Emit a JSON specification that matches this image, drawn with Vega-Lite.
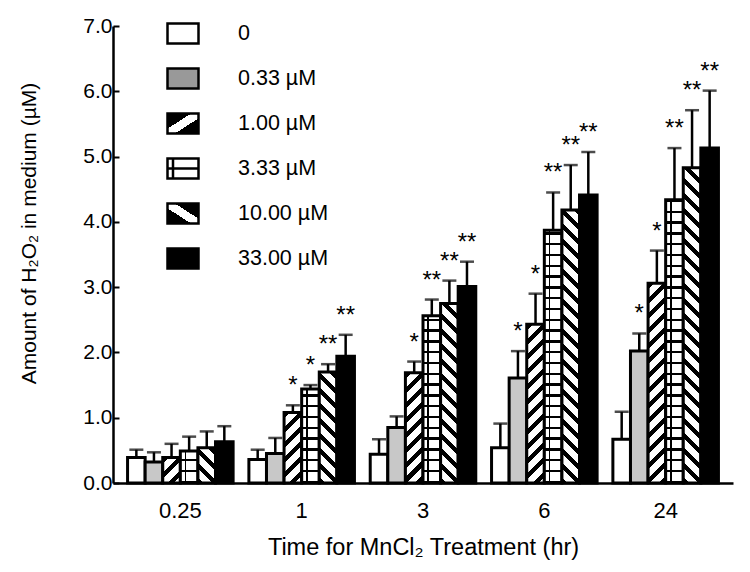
{
  "$schema": "https://vega.github.io/schema/vega-lite/v6.json",
  "width": 620,
  "height": 457,
  "autosize": {"type": "none"},
  "padding": {"left": 113, "top": 26, "right": 17, "bottom": 89},
  "background": "white",
  "config": {
    "view": {"stroke": null},
    "font": "Liberation Sans",
    "axis": {"labelFont": "Liberation Sans", "titleFont": "Liberation Sans", "labelColor": "black", "titleColor": "black", "domainColor": "black", "tickColor": "black", "labelFontSize": 21, "titleFontSize": 21, "titleFontWeight": "normal", "grid": false},
    "legend": {"title": null, "orient": "none", "legendX": 58.5, "legendY": -4, "direction": "vertical",
      "symbolSize": 400, "symbolStrokeWidth": 2.5, "symbolOpacity": 1,
      "labelFont": "Liberation Sans", "labelFontSize": 21.5, "labelColor": "black",
      "labelAlign": "left", "labelOffset": 43.5, "rowPadding": 14, "padding": 0, "labelLimit": 300}
  },
  "params": [
    {"name": "dstops", "value": [
      {"offset":0,"color":"black"},{"offset":0.0143,"color":"black"},{"offset":0.0143,"color":"white"},{"offset":0.0357,"color":"white"},
      {"offset":0.0357,"color":"black"},{"offset":0.05,"color":"black"},{"offset":0.05,"color":"white"},{"offset":0.0714,"color":"white"},
      {"offset":0.0714,"color":"black"},{"offset":0.0857,"color":"black"},{"offset":0.0857,"color":"white"},{"offset":0.1071,"color":"white"},
      {"offset":0.1071,"color":"black"},{"offset":0.1214,"color":"black"},{"offset":0.1214,"color":"white"},{"offset":0.1429,"color":"white"},
      {"offset":0.1429,"color":"black"},{"offset":0.1571,"color":"black"},{"offset":0.1571,"color":"white"},{"offset":0.1786,"color":"white"},
      {"offset":0.1786,"color":"black"},{"offset":0.1929,"color":"black"},{"offset":0.1929,"color":"white"},{"offset":0.2143,"color":"white"},
      {"offset":0.2143,"color":"black"},{"offset":0.2286,"color":"black"},{"offset":0.2286,"color":"white"},{"offset":0.25,"color":"white"},
      {"offset":0.25,"color":"black"},{"offset":0.2643,"color":"black"},{"offset":0.2643,"color":"white"},{"offset":0.2857,"color":"white"},
      {"offset":0.2857,"color":"black"},{"offset":0.3,"color":"black"},{"offset":0.3,"color":"white"},{"offset":0.3214,"color":"white"},
      {"offset":0.3214,"color":"black"},{"offset":0.3357,"color":"black"},{"offset":0.3357,"color":"white"},{"offset":0.3571,"color":"white"},
      {"offset":0.3571,"color":"black"},{"offset":0.3714,"color":"black"},{"offset":0.3714,"color":"white"},{"offset":0.3929,"color":"white"},
      {"offset":0.3929,"color":"black"},{"offset":0.4071,"color":"black"},{"offset":0.4071,"color":"white"},{"offset":0.4286,"color":"white"},
      {"offset":0.4286,"color":"black"},{"offset":0.4429,"color":"black"},{"offset":0.4429,"color":"white"},{"offset":0.4643,"color":"white"},
      {"offset":0.4643,"color":"black"},{"offset":0.4786,"color":"black"},{"offset":0.4786,"color":"white"},{"offset":0.5,"color":"white"},
      {"offset":0.5,"color":"black"},{"offset":0.5143,"color":"black"},{"offset":0.5143,"color":"white"},{"offset":0.5357,"color":"white"},
      {"offset":0.5357,"color":"black"},{"offset":0.55,"color":"black"},{"offset":0.55,"color":"white"},{"offset":0.5714,"color":"white"},
      {"offset":0.5714,"color":"black"},{"offset":0.5857,"color":"black"},{"offset":0.5857,"color":"white"},{"offset":0.6071,"color":"white"},
      {"offset":0.6071,"color":"black"},{"offset":0.6214,"color":"black"},{"offset":0.6214,"color":"white"},{"offset":0.6429,"color":"white"},
      {"offset":0.6429,"color":"black"},{"offset":0.6571,"color":"black"},{"offset":0.6571,"color":"white"},{"offset":0.6786,"color":"white"},
      {"offset":0.6786,"color":"black"},{"offset":0.6929,"color":"black"},{"offset":0.6929,"color":"white"},{"offset":0.7143,"color":"white"},
      {"offset":0.7143,"color":"black"},{"offset":0.7286,"color":"black"},{"offset":0.7286,"color":"white"},{"offset":0.75,"color":"white"},
      {"offset":0.75,"color":"black"},{"offset":0.7643,"color":"black"},{"offset":0.7643,"color":"white"},{"offset":0.7857,"color":"white"},
      {"offset":0.7857,"color":"black"},{"offset":0.8,"color":"black"},{"offset":0.8,"color":"white"},{"offset":0.8214,"color":"white"},
      {"offset":0.8214,"color":"black"},{"offset":0.8357,"color":"black"},{"offset":0.8357,"color":"white"},{"offset":0.8571,"color":"white"},
      {"offset":0.8571,"color":"black"},{"offset":0.8714,"color":"black"},{"offset":0.8714,"color":"white"},{"offset":0.8929,"color":"white"},
      {"offset":0.8929,"color":"black"},{"offset":0.9071,"color":"black"},{"offset":0.9071,"color":"white"},{"offset":0.9286,"color":"white"},
      {"offset":0.9286,"color":"black"},{"offset":0.9429,"color":"black"},{"offset":0.9429,"color":"white"},{"offset":0.9643,"color":"white"},
      {"offset":0.9643,"color":"black"},{"offset":0.9786,"color":"black"},{"offset":0.9786,"color":"white"},{"offset":1,"color":"white"}
    ]},
    {"name": "hstops", "value": [
      {"offset":0,"color":"black"},{"offset":0.008,"color":"black"},{"offset":0.008,"color":"white"},{"offset":0.0357,"color":"white"},
      {"offset":0.0357,"color":"black"},{"offset":0.0437,"color":"black"},{"offset":0.0437,"color":"white"},{"offset":0.0714,"color":"white"},
      {"offset":0.0714,"color":"black"},{"offset":0.0794,"color":"black"},{"offset":0.0794,"color":"white"},{"offset":0.1071,"color":"white"},
      {"offset":0.1071,"color":"black"},{"offset":0.1151,"color":"black"},{"offset":0.1151,"color":"white"},{"offset":0.1429,"color":"white"},
      {"offset":0.1429,"color":"black"},{"offset":0.1509,"color":"black"},{"offset":0.1509,"color":"white"},{"offset":0.1786,"color":"white"},
      {"offset":0.1786,"color":"black"},{"offset":0.1866,"color":"black"},{"offset":0.1866,"color":"white"},{"offset":0.2143,"color":"white"},
      {"offset":0.2143,"color":"black"},{"offset":0.2223,"color":"black"},{"offset":0.2223,"color":"white"},{"offset":0.25,"color":"white"},
      {"offset":0.25,"color":"black"},{"offset":0.258,"color":"black"},{"offset":0.258,"color":"white"},{"offset":0.2857,"color":"white"},
      {"offset":0.2857,"color":"black"},{"offset":0.2937,"color":"black"},{"offset":0.2937,"color":"white"},{"offset":0.3214,"color":"white"},
      {"offset":0.3214,"color":"black"},{"offset":0.3294,"color":"black"},{"offset":0.3294,"color":"white"},{"offset":0.3571,"color":"white"},
      {"offset":0.3571,"color":"black"},{"offset":0.3651,"color":"black"},{"offset":0.3651,"color":"white"},{"offset":0.3929,"color":"white"},
      {"offset":0.3929,"color":"black"},{"offset":0.4009,"color":"black"},{"offset":0.4009,"color":"white"},{"offset":0.4286,"color":"white"},
      {"offset":0.4286,"color":"black"},{"offset":0.4366,"color":"black"},{"offset":0.4366,"color":"white"},{"offset":0.4643,"color":"white"},
      {"offset":0.4643,"color":"black"},{"offset":0.4723,"color":"black"},{"offset":0.4723,"color":"white"},{"offset":0.5,"color":"white"},
      {"offset":0.5,"color":"black"},{"offset":0.508,"color":"black"},{"offset":0.508,"color":"white"},{"offset":0.5357,"color":"white"},
      {"offset":0.5357,"color":"black"},{"offset":0.5437,"color":"black"},{"offset":0.5437,"color":"white"},{"offset":0.5714,"color":"white"},
      {"offset":0.5714,"color":"black"},{"offset":0.5794,"color":"black"},{"offset":0.5794,"color":"white"},{"offset":0.6071,"color":"white"},
      {"offset":0.6071,"color":"black"},{"offset":0.6151,"color":"black"},{"offset":0.6151,"color":"white"},{"offset":0.6429,"color":"white"},
      {"offset":0.6429,"color":"black"},{"offset":0.6509,"color":"black"},{"offset":0.6509,"color":"white"},{"offset":0.6786,"color":"white"},
      {"offset":0.6786,"color":"black"},{"offset":0.6866,"color":"black"},{"offset":0.6866,"color":"white"},{"offset":0.7143,"color":"white"},
      {"offset":0.7143,"color":"black"},{"offset":0.7223,"color":"black"},{"offset":0.7223,"color":"white"},{"offset":0.75,"color":"white"},
      {"offset":0.75,"color":"black"},{"offset":0.758,"color":"black"},{"offset":0.758,"color":"white"},{"offset":0.7857,"color":"white"},
      {"offset":0.7857,"color":"black"},{"offset":0.7937,"color":"black"},{"offset":0.7937,"color":"white"},{"offset":0.8214,"color":"white"},
      {"offset":0.8214,"color":"black"},{"offset":0.8294,"color":"black"},{"offset":0.8294,"color":"white"},{"offset":0.8571,"color":"white"},
      {"offset":0.8571,"color":"black"},{"offset":0.8651,"color":"black"},{"offset":0.8651,"color":"white"},{"offset":0.8929,"color":"white"},
      {"offset":0.8929,"color":"black"},{"offset":0.9009,"color":"black"},{"offset":0.9009,"color":"white"},{"offset":0.9286,"color":"white"},
      {"offset":0.9286,"color":"black"},{"offset":0.9366,"color":"black"},{"offset":0.9366,"color":"white"},{"offset":0.9643,"color":"white"},
      {"offset":0.9643,"color":"black"},{"offset":0.9723,"color":"black"},{"offset":0.9723,"color":"white"},{"offset":1,"color":"white"}
    ]}
  ],
  "data": {"values": [
    {"time":"0.25","dose":"0","mean":0.39,"upper":0.51,"sig":""},
    {"time":"0.25","dose":"0.33 µM","mean":0.32,"upper":0.47,"sig":""},
    {"time":"0.25","dose":"1.00 µM","mean":0.39,"upper":0.60,"sig":""},
    {"time":"0.25","dose":"3.33 µM","mean":0.49,"upper":0.71,"sig":""},
    {"time":"0.25","dose":"10.00 µM","mean":0.54,"upper":0.79,"sig":""},
    {"time":"0.25","dose":"33.00 µM","mean":0.63,"upper":0.87,"sig":""},
    {"time":"1","dose":"0","mean":0.36,"upper":0.51,"sig":""},
    {"time":"1","dose":"0.33 µM","mean":0.45,"upper":0.69,"sig":""},
    {"time":"1","dose":"1.00 µM","mean":1.08,"upper":1.19,"sig":"*"},
    {"time":"1","dose":"3.33 µM","mean":1.44,"upper":1.50,"sig":"*"},
    {"time":"1","dose":"10.00 µM","mean":1.70,"upper":1.82,"sig":"**"},
    {"time":"1","dose":"33.00 µM","mean":1.94,"upper":2.27,"sig":"**"},
    {"time":"3","dose":"0","mean":0.44,"upper":0.67,"sig":""},
    {"time":"3","dose":"0.33 µM","mean":0.85,"upper":1.02,"sig":""},
    {"time":"3","dose":"1.00 µM","mean":1.69,"upper":1.86,"sig":"*"},
    {"time":"3","dose":"3.33 µM","mean":2.56,"upper":2.81,"sig":"**"},
    {"time":"3","dose":"10.00 µM","mean":2.75,"upper":3.10,"sig":"**"},
    {"time":"3","dose":"33.00 µM","mean":3.01,"upper":3.39,"sig":"**"},
    {"time":"6","dose":"0","mean":0.54,"upper":0.91,"sig":""},
    {"time":"6","dose":"0.33 µM","mean":1.61,"upper":2.02,"sig":"*"},
    {"time":"6","dose":"1.00 µM","mean":2.43,"upper":2.90,"sig":"*"},
    {"time":"6","dose":"3.33 µM","mean":3.87,"upper":4.45,"sig":"**"},
    {"time":"6","dose":"10.00 µM","mean":4.18,"upper":4.87,"sig":"**"},
    {"time":"6","dose":"33.00 µM","mean":4.41,"upper":5.07,"sig":"**"},
    {"time":"24","dose":"0","mean":0.67,"upper":1.09,"sig":""},
    {"time":"24","dose":"0.33 µM","mean":2.02,"upper":2.29,"sig":"*"},
    {"time":"24","dose":"1.00 µM","mean":3.06,"upper":3.56,"sig":"*"},
    {"time":"24","dose":"3.33 µM","mean":4.34,"upper":5.13,"sig":"**"},
    {"time":"24","dose":"10.00 µM","mean":4.83,"upper":5.71,"sig":"**"},
    {"time":"24","dose":"33.00 µM","mean":5.13,"upper":6.01,"sig":"**"}
  ]},
  "encoding": {
    "x": {"field": "time", "type": "nominal", "sort": ["0.25","1","3","6","24"],
      "scale": {"type": "band", "paddingInner": 0.13, "paddingOuter": 0.12},
      "axis": {"title": "Time for MnCl₂ Treatment (hr)", "labelAngle": 0, "ticks": false, "labelPadding": 17, "labelFontSize": 22, "domainWidth": 2.5, "titlePadding": 14, "titleFontSize": 23.5}},
    "xOffset": {"field": "dose", "type": "nominal", "scale": {"domain": ["0","0.33 µM","1.00 µM","3.33 µM","10.00 µM","33.00 µM"], "paddingInner": 0, "paddingOuter": 0}},
    "y": {"field": "mean", "type": "quantitative",
      "scale": {"domain": [0, 7], "nice": false},
      "axis": {"title": "Amount of H₂O₂ in medium (µM)", "values": [0,1,2,3,4,5,6,7], "format": ".1f", "tickSize": -6, "tickWidth": 2, "domainWidth": 2.5, "labelPadding": 7, "titleAngle": -90, "titleX": -84, "titleY": 207, "titleAlign": "center", "titleBaseline": "middle"}}
  },
  "layer": [
    {"mark": {"type": "bar", "stroke": "black", "strokeWidth": 3,
      "fill": {"expr": "datum.dose==='0'?'white':datum.dose==='0.33 µM'?'#c8c8c8':datum.dose==='33.00 µM'?'black':datum.dose==='3.33 µM'?{gradient:'linear',x1:0,y1:1,x2:0,y2:1-302.4/max(1,scale('y',0)-scale('y',datum.mean)),stops:hstops}:datum.dose==='1.00 µM'?{gradient:'linear',x1:0,y1:0,x2:419.7*bandwidth('xOffset')/(pow(bandwidth('xOffset'),2)+pow(scale('y',0)-scale('y',datum.mean),2)),y2:419.7*(scale('y',0)-scale('y',datum.mean))/(pow(bandwidth('xOffset'),2)+pow(scale('y',0)-scale('y',datum.mean),2)),stops:dstops}:{gradient:'linear',x1:0,y1:1,x2:419.7*bandwidth('xOffset')/(pow(bandwidth('xOffset'),2)+pow(scale('y',0)-scale('y',datum.mean),2)),y2:1-419.7*(scale('y',0)-scale('y',datum.mean))/(pow(bandwidth('xOffset'),2)+pow(scale('y',0)-scale('y',datum.mean),2)),stops:dstops}"}}},
    {"transform": [{"filter": "datum.dose === '3.33 µM'"}],
     "mark": {"type": "bar", "strokeWidth": 0,
      "fill": {"gradient": "linear", "x1": 0, "y1": 0, "x2": 1, "y2": 0, "stops": [
        {"offset": 0, "color": "rgba(0,0,0,0)"}, {"offset": 0.24, "color": "rgba(0,0,0,0)"},
        {"offset": 0.24, "color": "black"}, {"offset": 0.35, "color": "black"},
        {"offset": 0.35, "color": "rgba(0,0,0,0)"}, {"offset": 1, "color": "rgba(0,0,0,0)"}]}}},
    {"mark": {"type": "rule", "color": "black", "strokeWidth": 2.5},
     "encoding": {"y": {"field": "mean", "type": "quantitative"}, "y2": {"field": "upper"}}},
    {"mark": {"type": "tick", "orient": "horizontal", "color": "black", "size": 14, "thickness": 2.5},
     "encoding": {"y": {"field": "upper", "type": "quantitative"}}},
    {"mark": {"type": "text", "fontSize": 24, "font": "Liberation Sans", "color": "black", "align": "center", "baseline": "alphabetic", "dy": -12},
     "encoding": {"y": {"field": "upper", "type": "quantitative"}, "text": {"field": "sig"}}},
    {"mark": {"type": "point", "opacity": 0, "filled": true},
     "encoding": {
       "shape": {"field": "dose", "type": "nominal",
         "scale": {"domain": ["0","0.33 µM","1.00 µM","3.33 µM","10.00 µM","33.00 µM"],
           "range": ["M-1.55,-1L1.55,-1L1.55,1L-1.55,1Z","M-1.55,-1L1.55,-1L1.55,1L-1.55,1Z","M-1.55,-1L1.55,-1L1.55,1L-1.55,1Z","M-1.55,-1L1.55,-1L1.55,1L-1.55,1Z M-1.55,0L1.55,0 M-1,-1L-1,1","M-1.55,-1L1.55,-1L1.55,1L-1.55,1Z","M-1.55,-1L1.55,-1L1.55,1L-1.55,1Z"]}},
       "stroke": {"field": "dose", "type": "nominal",
         "scale": {"domain": ["0","0.33 µM","1.00 µM","3.33 µM","10.00 µM","33.00 µM"],
           "range": ["black","black","black","black","black","black"]}},
       "fill": {"field": "dose", "type": "nominal",
         "scale": {"domain": ["0","0.33 µM","1.00 µM","3.33 µM","10.00 µM","33.00 µM"],
           "range": ["white", "#999999",
             {"expr": "{gradient:'linear',x1:0,y1:0,x2:1,y2:1,stops:[{offset:0,color:'black'},{offset:0.38,color:'black'},{offset:0.38,color:'white'},{offset:0.62,color:'white'},{offset:0.62,color:'black'},{offset:1,color:'black'}]}"},
             "white",
             {"expr": "{gradient:'linear',x1:0,y1:1,x2:1,y2:0,stops:[{offset:0,color:'black'},{offset:0.38,color:'black'},{offset:0.38,color:'white'},{offset:0.62,color:'white'},{offset:0.62,color:'black'},{offset:1,color:'black'}]}"},
             "black"]}}
     }}
  ]
}
